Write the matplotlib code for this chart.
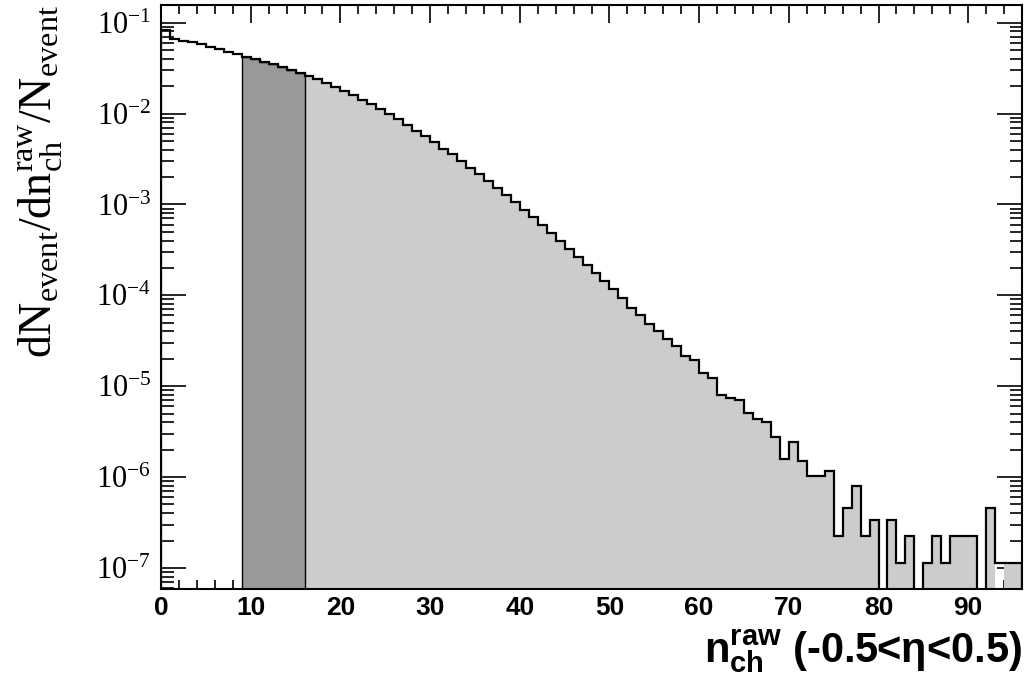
import numpy as np
import matplotlib
matplotlib.use("Agg")
import matplotlib.pyplot as plt
from matplotlib.ticker import MultipleLocator, FixedLocator, NullFormatter, FuncFormatter

# ---------------- data ----------------
# normalized multiplicity distribution, one bin per integer n_ch^raw (0..95)
nch_values = [
    0.0832, 0.0662, 0.0634, 0.0610, 0.0579, 0.0545, 0.0514, 0.0481, 0.0450, 0.0420,
    0.0403, 0.0373, 0.0349, 0.0326, 0.0305, 0.0280, 0.0258, 0.0241, 0.0216, 0.0198,
    0.0178, 0.0161, 0.0142, 0.0127, 0.0112, 0.00986, 0.00861, 0.00752, 0.00647, 0.00565,
    0.00481, 0.00410, 0.00361, 0.00303, 0.00254, 0.00218, 0.00181, 0.00150, 0.00126, 0.00105,
    8.61e-4, 7.29e-4, 5.96e-4, 4.82e-4, 4.00e-4, 3.24e-4, 2.62e-4, 2.18e-4, 1.77e-4, 1.43e-4,
    1.16e-4, 9.23e-5, 7.17e-5, 6.05e-5, 4.78e-5, 4.04e-5, 3.27e-5, 2.74e-5, 2.15e-5, 1.92e-5,
    1.41e-5, 1.24e-5, 8.0e-6, 7.45e-6, 7.0e-6, 5.05e-6, 4.33e-6, 4.08e-6, 2.77e-6, 1.59e-6,
    2.44e-6, 1.51e-6, 1.03e-6, 1.03e-6, 1.16e-6, 2.26e-7, 4.52e-7, 7.9e-7, 2.26e-7, 3.39e-7,
    0.0, 3.39e-7, 1.13e-7, 2.26e-7, 0.0, 1.13e-7, 2.26e-7, 1.13e-7, 2.26e-7, 2.26e-7,
    2.26e-7, 0.0, 4.52e-7, 1.13e-7, 1.13e-7, 1.13e-7,
]
bin_width = 1
dark_bins = (9, 16)        # selected multiplicity class (dark grey)
light_start = 16           # light grey from here on
unfilled_bins = [93]       # bin drawn without fill in the original
x_range = (0, 96)
y_range = (5.86e-8, 0.1564)
y_decades = [-7, -6, -5, -4, -3, -2, -1]

# ---------------- style ----------------
plt.rcParams["mathtext.fontset"] = "custom"
plt.rcParams["mathtext.rm"] = "Liberation Serif"
plt.rcParams["mathtext.it"] = "Liberation Serif:italic"
plt.rcParams["mathtext.bf"] = "Liberation Sans:bold"
plt.rcParams["mathtext.sf"] = "Liberation Sans"

fig = plt.figure(figsize=(10.29, 6.86), dpi=100)
ax = fig.add_axes([161 / 1029, 97 / 686, 861 / 1029, 584 / 686])
ax.set_yscale("log")
ax.set_axisbelow(True)

vals = np.array(nch_values, dtype=float)
edges = np.arange(len(vals) + 1) * bin_width
floor = y_range[0] * 1e-2
plot_vals = np.where(vals > 0, vals, floor)

fill_vals = plot_vals.copy()
for b in unfilled_bins:
    fill_vals[b] = floor

# light grey part
ax.stairs(fill_vals[light_start:], edges[light_start:], baseline=floor, fill=True,
          facecolor="#cccccc", edgecolor="none", linewidth=0, zorder=1)
# dark grey selected class
d0, d1 = dark_bins
ax.stairs(plot_vals[d0:d1], edges[d0:d1 + 1], baseline=floor, fill=True,
          facecolor="#999999", edgecolor="black", linewidth=1.0, zorder=2)
# outline
ax.stairs(plot_vals, edges, baseline=floor, fill=False, color="black",
          linewidth=1.6, zorder=3)

ax.set_xlim(*x_range)
ax.set_ylim(*y_range)

for s in ax.spines.values():
    s.set_linewidth(1.5)
    s.set_zorder(5)

major_y = [10.0 ** d for d in y_decades]
minor_y = [m * 10.0 ** d for d in range(y_decades[0] - 1, y_decades[-1] + 1)
           for m in range(2, 10)]
minor_y = [v for v in minor_y if y_range[0] <= v <= y_range[1]]

ax.xaxis.set_major_locator(MultipleLocator(10))
ax.xaxis.set_minor_locator(MultipleLocator(2))
ax.yaxis.set_major_locator(FixedLocator(major_y))
ax.yaxis.set_minor_locator(FixedLocator(minor_y))
ax.yaxis.set_minor_formatter(NullFormatter())
ax.yaxis.set_major_formatter(FuncFormatter(
    lambda v, p: r"$\mathrm{10^{%d}}$" % int(round(np.log10(v)))))

ax.tick_params(axis="x", which="major", direction="in", length=13, width=1.2,
               top=True, bottom=True, pad=5)
ax.tick_params(axis="x", which="minor", direction="in", length=6.5, width=1.2,
               top=True, bottom=True)
ax.tick_params(axis="y", which="major", direction="in", length=18, width=1.2,
               left=True, right=True, pad=7)
ax.tick_params(axis="y", which="minor", direction="in", length=9, width=1.2,
               left=True, right=True)

for lab in ax.get_xticklabels():
    lab.set_fontfamily("Liberation Sans")
    lab.set_fontweight("bold")
    lab.set_fontsize(19)
for lab in ax.get_yticklabels():
    lab.set_fontfamily("Liberation Serif")
    lab.set_fontsize(22)

fig.text(0.040, 0.993, r"$\mathrm{dN_{event}/dn_{ch}^{raw}/N_{event}}$",
         rotation=90, ha="center", va="top", fontsize=33,
         fontfamily="Liberation Serif")
fig.text(0.993, 0.016, r"$\mathbf{n}_{\mathbf{ch}}^{\mathbf{raw}}$ (-0.5<η<0.5)",
         ha="right", va="bottom", fontsize=30, fontfamily="Liberation Sans",
         fontweight="bold")

fig.savefig("out.png", dpi=100)
